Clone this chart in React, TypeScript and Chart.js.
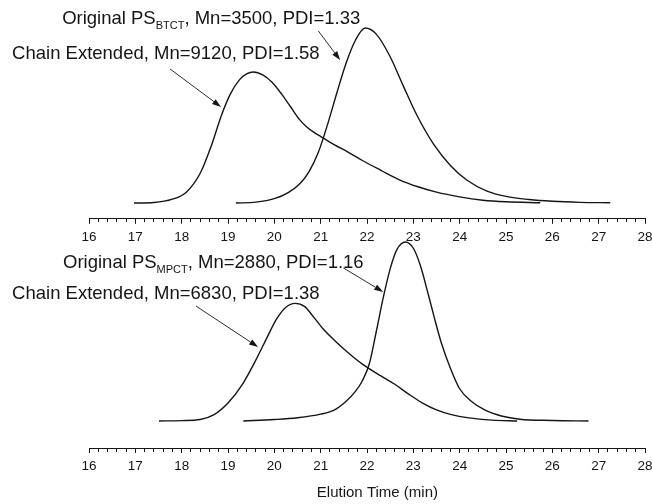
import React, { useEffect, useRef } from 'react';
import { Chart, registerables } from 'chart.js';

Chart.register(...registerables);

// ---------- data (elution time in min, normalized detector response) ----------
const xMin = 16;
const xMax = 28;
const minorStep = 0.2;

// Top panel (BTCT)
const topChainTime = [16.97, 17.4, 17.8, 18.1, 18.4, 18.65, 18.85, 19.05, 19.25, 19.4, 19.55, 19.75, 19.95, 20.15, 20.35, 20.55, 20.7, 20.85, 21.0, 21.3, 21.6, 21.9, 22.3, 22.7, 23.1, 23.5, 24.0, 24.5, 25.0, 25.74];
const topChainResp = [0, 0.003, 0.022, 0.062, 0.17, 0.335, 0.495, 0.622, 0.705, 0.738, 0.749, 0.732, 0.69, 0.625, 0.55, 0.475, 0.435, 0.405, 0.38, 0.332, 0.29, 0.243, 0.187, 0.133, 0.093, 0.062, 0.035, 0.016, 0.007, 0.002];
const topOrigTime = [19.17, 19.6, 20.0, 20.3, 20.55, 20.75, 20.95, 21.15, 21.35, 21.55, 21.75, 21.96, 22.2, 22.5, 22.79, 23.08, 23.44, 23.8, 24.16, 24.59, 25.0, 25.5, 26.0, 26.6, 27.25];
const topOrigResp = [0, 0.005, 0.025, 0.06, 0.11, 0.18, 0.29, 0.45, 0.63, 0.8, 0.93, 1.0, 0.965, 0.836, 0.665, 0.5, 0.335, 0.215, 0.13, 0.068, 0.038, 0.02, 0.01, 0.004, 0.002];

// Bottom panel (MPCT)
const botChainTime = [17.51, 18.0, 18.4, 18.7, 19.0, 19.3, 19.6, 19.85, 20.05, 20.25, 20.45, 20.65, 20.85, 21.05, 21.3, 21.6, 21.9, 22.3, 22.6, 22.9, 23.2, 23.5, 23.8, 24.2, 24.7, 25.24];
const botChainResp = [0, 0.002, 0.008, 0.035, 0.1, 0.2, 0.34, 0.47, 0.57, 0.635, 0.657, 0.64, 0.58, 0.515, 0.45, 0.38, 0.318, 0.252, 0.205, 0.15, 0.1, 0.062, 0.037, 0.017, 0.005, 0];
const botOrigTime = [19.33, 20.0, 20.5, 21.0, 21.3, 21.55, 21.75, 21.9, 22.05, 22.2, 22.36, 22.5, 22.65, 22.83, 23.0, 23.15, 23.3, 23.45, 23.6, 23.8, 24.0, 24.25, 24.55, 24.9, 25.3, 26.0, 26.78];
const botOrigResp = [0, 0.008, 0.018, 0.038, 0.062, 0.11, 0.165, 0.225, 0.32, 0.5, 0.7, 0.85, 0.96, 1.0, 0.965, 0.87, 0.73, 0.58, 0.44, 0.295, 0.18, 0.11, 0.06, 0.028, 0.01, 0.003, 0];

// Annotation texts: [text, isSubscript]
const topOrigLabel: [string, boolean][] = [['Original PS', false], ['BTCT', true], [', Mn=3500, PDI=1.33', false]];
const topChainLabel: [string, boolean][] = [['Chain Extended, Mn=9120, PDI=1.58', false]];
const botOrigLabel: [string, boolean][] = [['Original PS', false], ['MPCT', true], [', Mn=2880, PDI=1.16', false]];
const botChainLabel: [string, boolean][] = [['Chain Extended, Mn=6830, PDI=1.38', false]];
const axisTitle = '     Elution Time (min)';

const ink = '#151515';
const family = '"Liberation Sans", Arial, Helvetica, sans-serif';

const pts = (t: number[], r: number[]) => t.map((v, i) => ({ x: v, y: r[i] }));
const isMajor = (v: number) => Math.abs(v - Math.round(v)) < 1e-6;

const notesPlugin = {
  id: 'notes',
  afterDatasetsDraw(chart: any, _args: any, opts: any) {
    const { ctx } = chart;
    const xs = chart.scales.x;
    const ys = chart.scales.y;
    ctx.save();
    ctx.fillStyle = ink;
    ctx.strokeStyle = ink;
    ctx.textBaseline = 'alphabetic';
    ctx.textAlign = 'left';
    for (const n of opts.texts || []) {
      let px = xs.getPixelForValue(n.x);
      const py = ys.getPixelForValue(n.y);
      for (const [s, sub] of n.parts) {
        ctx.font = sub ? `11px ${family}` : `18.5px ${family}`;
        ctx.fillText(s, px, py + (sub ? 5 : 0));
        px += ctx.measureText(s).width;
      }
    }
    ctx.lineWidth = 0.9;
    for (const a of opts.arrows || []) {
      const x1 = xs.getPixelForValue(a.x1);
      const y1 = ys.getPixelForValue(a.y1);
      const x2 = xs.getPixelForValue(a.x2);
      const y2 = ys.getPixelForValue(a.y2);
      const ang = Math.atan2(y2 - y1, x2 - x1);
      const len = 9;
      const hw = 3;
      const bx = x2 - len * Math.cos(ang);
      const by = y2 - len * Math.sin(ang);
      ctx.beginPath();
      ctx.moveTo(x1, y1);
      ctx.lineTo(bx, by);
      ctx.stroke();
      ctx.beginPath();
      ctx.moveTo(x2, y2);
      ctx.lineTo(bx + hw * Math.sin(ang), by - hw * Math.cos(ang));
      ctx.lineTo(bx - hw * Math.sin(ang), by + hw * Math.cos(ang));
      ctx.closePath();
      ctx.fill();
    }
    ctx.restore();
  },
};

function makeConfig(series: { t: number[]; r: number[] }[], yMin: number, yMax: number, notes: any, withTitle: boolean): any {
  return {
    type: 'line',
    data: {
      datasets: series.map((s) => ({
        data: pts(s.t, s.r),
        borderColor: ink,
        borderWidth: 1.4,
        pointRadius: 0,
        fill: false,
        cubicInterpolationMode: 'monotone',
      })),
    },
    options: {
      animation: false,
      responsive: false,
      devicePixelRatio: 1,
      layout: { padding: { left: 89, right: 20, top: 0, bottom: 0 } },
      plugins: {
        legend: { display: false },
        tooltip: { enabled: false },
        notes,
      },
      scales: {
        x: {
          type: 'linear',
          min: xMin,
          max: xMax,
          border: { display: true, color: ink, width: 1 },
          grid: {
            drawOnChartArea: false,
            drawTicks: true,
            tickLength: 5,
            tickColor: ink,
            tickWidth: 1,
            tickBorderDash: (c: any) => (c.tick && isMajor(c.tick.value) ? [] : [3, 30]),
          },
          ticks: {
            stepSize: minorStep,
            autoSkip: false,
            maxRotation: 0,
            minRotation: 0,
            padding: 5,
            color: ink,
            font: { family, size: 13.5 },
            callback: (v: number) => (isMajor(v) ? String(Math.round(v)) : ''),
          },
          title: {
            display: withTitle,
            text: axisTitle,
            color: ink,
            font: { family, size: 15 },
            padding: { top: 4.8, bottom: 2 },
          },
        },
        y: { type: 'linear', display: false, min: yMin, max: yMax },
      },
    },
    plugins: [notesPlugin],
  };
}

export default function App() {
  const topRef = useRef<HTMLCanvasElement>(null);
  const botRef = useRef<HTMLCanvasElement>(null);

  useEffect(() => {
    const top = new Chart(
      topRef.current as HTMLCanvasElement,
      makeConfig(
        [
          { t: topChainTime, r: topChainResp },
          { t: topOrigTime, r: topOrigResp },
        ],
        -0.09,
        1.16,
        {
          texts: [
            { x: 15.42, y: 1.023, parts: topOrigLabel },
            { x: 14.34, y: 0.823, parts: topChainLabel },
          ],
          arrows: [
            { x1: 20.95, y1: 0.983, x2: 21.42, y2: 0.817 },
            { x1: 17.75, y1: 0.766, x2: 18.85, y2: 0.549 },
          ],
        },
        false
      )
    );
    const bot = new Chart(
      botRef.current as HTMLCanvasElement,
      makeConfig(
        [
          { t: botChainTime, r: botChainResp },
          { t: botOrigTime, r: botOrigResp },
        ],
        -0.151,
        1.067,
        {
          texts: [
            { x: 15.44, y: 0.855, parts: botOrigLabel },
            { x: 14.34, y: 0.682, parts: botChainLabel },
          ],
          arrows: [
            { x1: 21.49, y1: 0.855, x2: 22.35, y2: 0.721 },
            { x1: 18.31, y1: 0.642, x2: 19.65, y2: 0.413 },
          ],
        },
        true
      )
    );
    return () => {
      top.destroy();
      bot.destroy();
    };
  }, []);

  return (
    <div style={{ position: 'fixed', left: 0, top: 0, width: 652, height: 504, overflow: 'hidden', background: '#fff' }}>
      <canvas ref={topRef} width={665} height={250} style={{ position: 'absolute', left: 0, top: 0 }} />
      <canvas ref={botRef} width={665} height={274} style={{ position: 'absolute', left: 0, top: 230 }} />
    </div>
  );
}
